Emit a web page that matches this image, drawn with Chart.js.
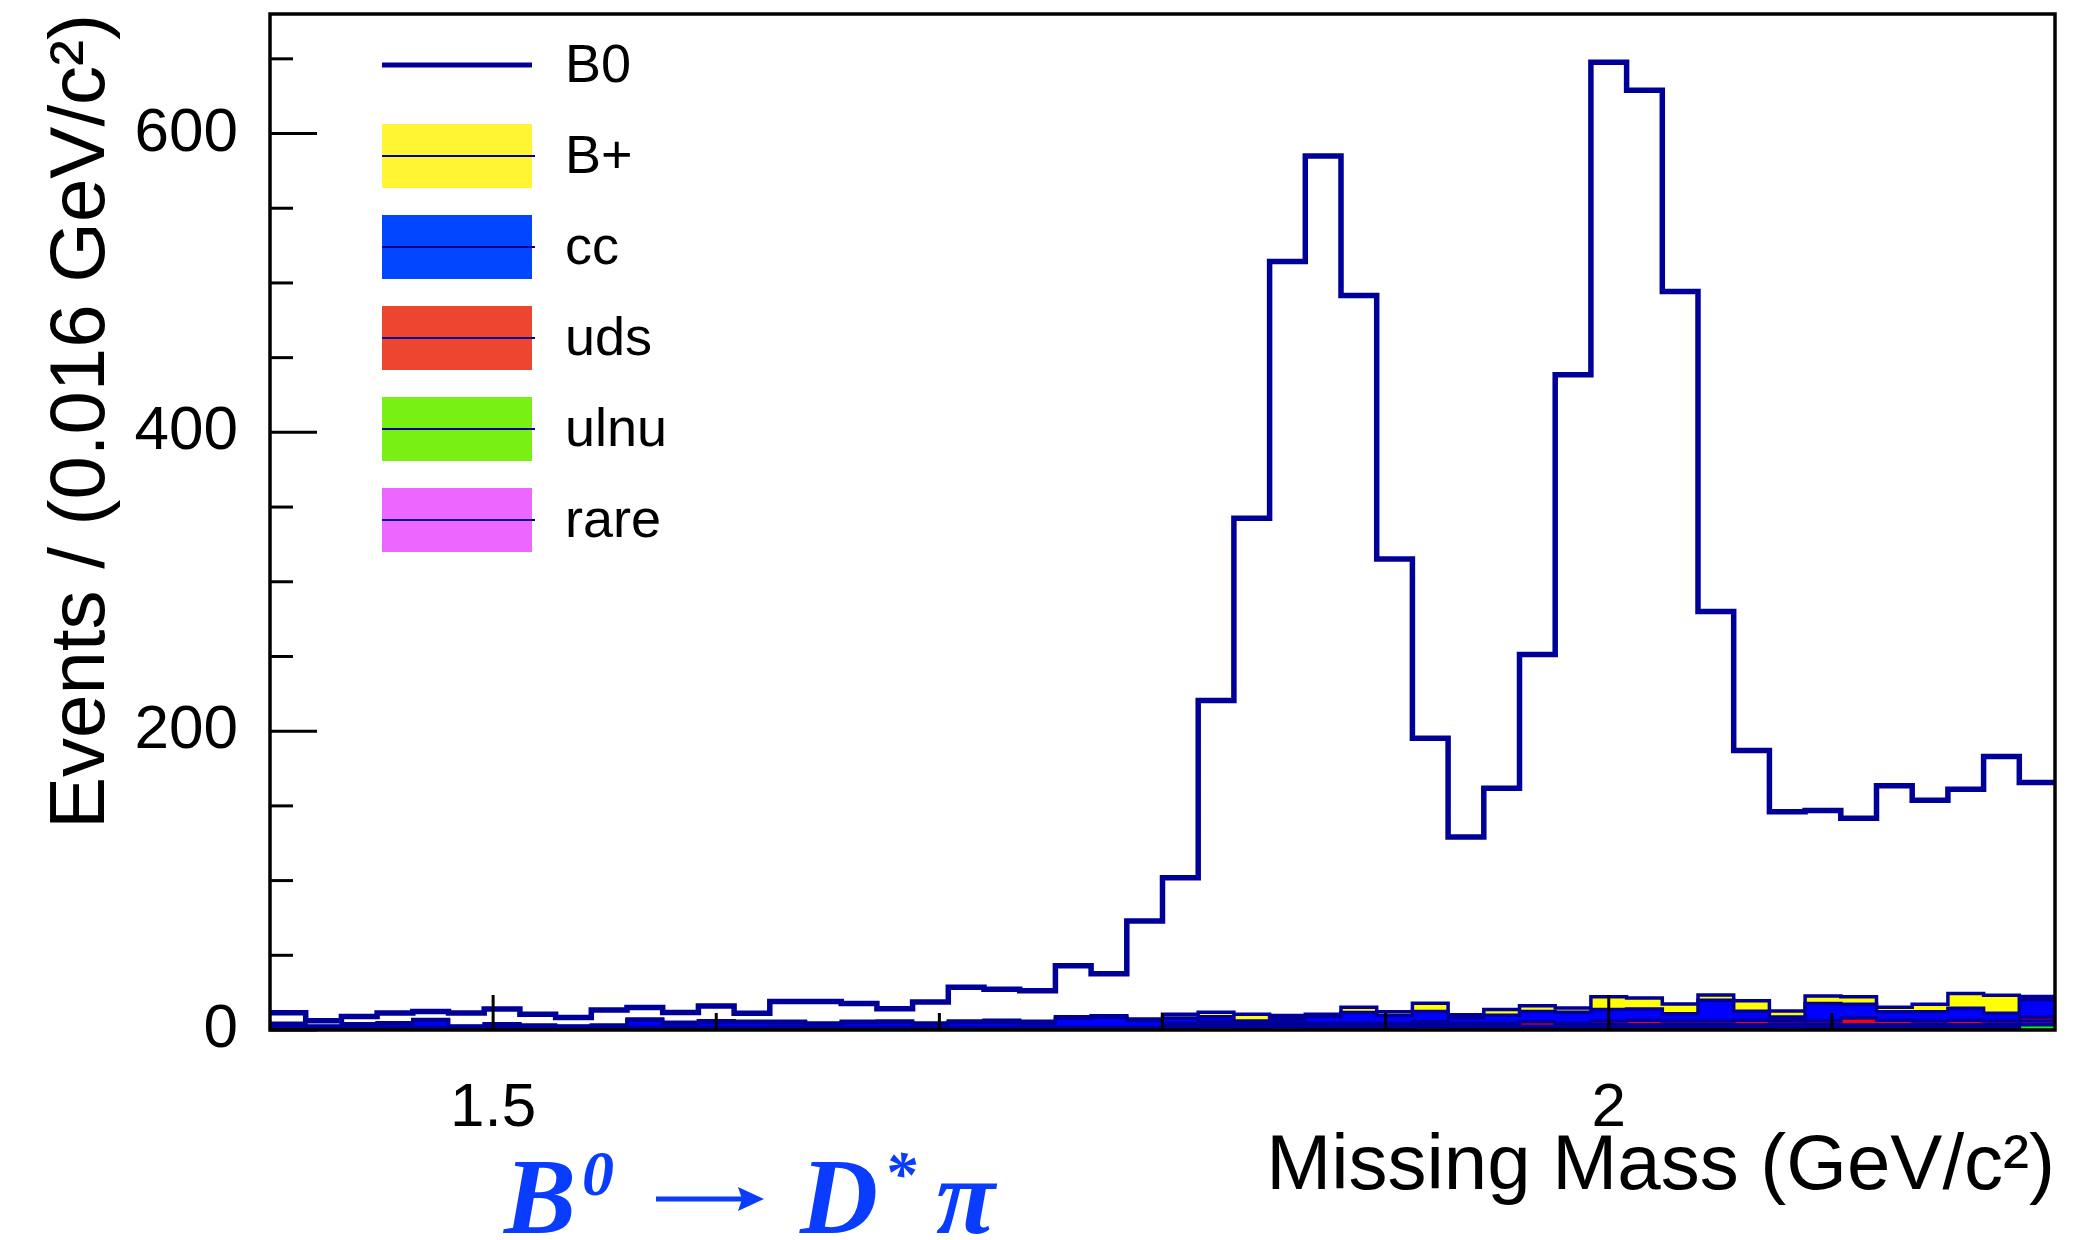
<!DOCTYPE html>
<html>
<head>
<meta charset="utf-8">
<title>Missing Mass</title>
<script src="https://cdn.jsdelivr.net/npm/chart.js@4.4.1/dist/chart.umd.min.js"></script>
<style>
  html, body { margin: 0; padding: 0; background: #fff; }
  #missMass { display: block; }
</style>
</head>
<body>
<canvas id="missMass" width="2100" height="1240"></canvas>
<script>
// 50 bins of 0.016 GeV/c2 between 1.4 and 2.2
const xMin = 1.4;
const xMax = 2.2;
const binWidth = 0.016;
const binEdges = [];
for (let i = 0; i <= 50; i++) binEdges.push(+(xMin + i * binWidth).toFixed(3));

// stack components, bottom to top (events per bin)
const ulnu = [0.4,0.4,0.4,0.4,0.4,0.4,0.4,0.4,0.4,0.4,0.4,0.4,0.4,0.4,0.4,0.4,0.4,0.4,0.4,0.4,0.4,0.4,0.4,0.4,0.4,
              1.0,2.0,1.0,2.0,1.0,1.0,1.0,2.0,1.0,1.0,1.0,1.0,1.5,1.5,1.5,1.5,1.5,2.0,1.5,1.5,1.5,1.5,1.5,1.5,3.5];
const rare = [0.6,0.6,0.6,0.6,0.6,0.6,0.6,0.6,0.6,0.6,0.6,0.6,0.6,0.6,0.6,0.6,0.6,0.6,0.6,0.6,0.6,0.6,0.6,0.6,0.6,
              1.5,1.5,1.5,1.5,1.5,1.5,1.5,1.5,1.5,1.5,1.5,1.5,2.0,2.0,2.0,2.0,2.0,2.0,2.0,2.0,2.0,2.0,2.0,2.0,2.5];
const uds = [0.8,0.8,0.8,0.8,0.8,0.8,0.8,0.8,0.8,0.8,0.8,0.8,0.8,0.8,1.3,0.8,0.8,0.8,0.8,0.8,0.8,1.3,0.8,0.8,0.8,
             2.0,2.0,2.0,2.0,2.0,2.0,2.0,2.0,2.0,2.0,3.0,2.0,2.5,3.0,2.5,2.5,3.0,2.5,2.5,4.5,3.0,2.5,3.0,2.5,2.7];
const cc = [2.2,0.5,1.9,2.6,4.6,0.5,1.8,1.1,0.5,1.0,4.8,2.7,3.6,3.2,2.9,2.4,3.2,3.4,2.4,3.4,3.3,2.7,6.0,6.7,4.6,
            3.6,3.3,1.6,2.2,4.6,7.2,5.2,6.9,3.7,5.3,6.8,7.3,7.8,7.5,4.9,13.9,6.1,2.2,11.8,9.3,5.7,6.2,8.0,5.2,11.5];
const bplus = [0.5,0.3,0.5,0.5,0.6,0.3,0.6,0.4,0.3,0.5,0.8,0.7,0.8,0.8,0.6,0.5,0.8,0.8,0.5,0.8,1.5,0.8,1.0,1.0,1.0,
               2.5,3.0,4.5,2.0,1.5,3.5,2.5,5.5,2.0,4.0,4.0,3.0,8.5,7.5,6.5,3.5,7.0,4.0,5.0,5.0,3.0,5.0,10.0,12.0,2.3];
const b0 = [7.0,3.6,4.8,6.5,5.4,8.7,9.8,7.2,5.8,10.1,7.6,6.5,9.9,5.4,13.2,14.3,11.9,8.2,14.0,22.6,20.6,20.4,34.2,28.2,65.6,
            91.3,208.8,331.9,504.6,574.4,476.4,303.0,177.4,119.0,148.0,235.1,423.8,625.4,607.5,476.9,256.7,167.5,133.4,124.1,119.4,
            148.2,136.6,136.6,159.8,143.1];

// axis ticks
const yMax = 680;
const yTickValues = [0, 200, 400, 600];
const yMinorTicks = [0, 50, 100, 150, 200, 250, 300, 350, 400, 450, 500, 550, 600, 650];
const xTickValues = [1.5, 2];
const xMinorTicks = [1.5, 1.6, 1.7, 1.8, 1.9, 2.0, 2.1];

const lineColor = '#000099';
const txtFont = "'Liberation Sans', Arial, Helvetica, sans-serif";

// step histogram: one point per low edge, plus the upper edge of the last bin
function histPoints(vals) {
    return binEdges.map((x, i) => ({ x: x, y: vals[Math.min(i, vals.length - 1)] }));
}

function histSet(label, vals, fillColor, legendFill, fill) {
    return {
        label: label,
        data: histPoints(vals),
        stepped: true,
        borderColor: lineColor,
        borderWidth: 3.5,
        backgroundColor: fillColor,
        legendFill: legendFill,
        fill: fill,
        pointRadius: 0,
        borderJoinStyle: 'miter'
    };
}

const datasets = [
    histSet('ulnu', ulnu, '#00ff00', '#78f014', 'origin'),
    histSet('rare', rare, '#ff00ff', '#ec66ff', '-1'),
    histSet('uds', uds, '#ff0000', '#ec4530', '-1'),
    histSet('cc', cc, '#0000ff', '#0047ff', '-1'),
    histSet('B+', bplus, '#ffff00', '#fff533', '-1'),
    Object.assign(histSet('B0', b0, 'rgba(0,0,0,0)', null, false), { borderWidth: 5.5 })
];

// legend order top to bottom
const legendOrder = ['B0', 'B+', 'cc', 'uds', 'ulnu', 'rare'];

// scales keep no extra room for overhanging labels
function noPad(s) {
    s.paddingTop = 0;
    s.paddingBottom = 0;
    s.paddingLeft = 0;
    s.paddingRight = 0;
}

// frame and inward ticks
const frameTicks = {
    id: 'frameTicks',
    afterDatasetsDraw(chart) {
        const { ctx, chartArea: a, scales: { x, y } } = chart;
        ctx.save();
        ctx.strokeStyle = '#000';
        ctx.lineWidth = 3;
        yMinorTicks.forEach(v => {
            const py = y.getPixelForValue(v);
            const len = yTickValues.includes(v) ? 47 : 23;
            ctx.beginPath();
            ctx.moveTo(a.left, py);
            ctx.lineTo(a.left + len, py);
            ctx.stroke();
        });
        xMinorTicks.forEach(v => {
            const px = x.getPixelForValue(v);
            const len = xTickValues.some(t => Math.abs(t - v) < 1e-6) ? 35 : 17;
            ctx.beginPath();
            ctx.moveTo(px, a.bottom);
            ctx.lineTo(px, a.bottom - len);
            ctx.stroke();
        });
        ctx.lineWidth = 3.5;
        ctx.strokeRect(a.left, a.top, a.right - a.left, a.bottom - a.top);
        ctx.restore();
    }
};

// ROOT style legend box in the upper left of the frame
const histLegend = {
    id: 'histLegend',
    afterDraw(chart) {
        const ctx = chart.ctx;
        const boxL = 382, boxR = 532, boxH = 64, top = 65, step = 91;
        ctx.save();
        ctx.font = '54px ' + txtFont;
        ctx.textBaseline = 'middle';
        legendOrder.forEach((name, i) => {
            const ds = chart.data.datasets.find(d => d.label === name);
            const cy = top + i * step;
            ctx.strokeStyle = lineColor;
            if (ds.legendFill) {
                ctx.fillStyle = ds.legendFill;
                ctx.fillRect(boxL, cy - boxH / 2, boxR - boxL, boxH);
                ctx.lineWidth = 2;
                ctx.beginPath();
                ctx.moveTo(boxL, cy);
                ctx.lineTo(boxR + 3, cy);
                ctx.stroke();
            } else {
                ctx.lineWidth = 5;
                ctx.beginPath();
                ctx.moveTo(boxL, cy);
                ctx.lineTo(boxR, cy);
                ctx.stroke();
            }
            ctx.fillStyle = '#000';
            ctx.fillText(name, 565, cy + 2);
        });
        ctx.restore();
    }
};

// decay label under the frame
const decayLabel = {
    id: 'decayLabel',
    afterDraw(chart) {
        const ctx = chart.ctx;
        const serif = "'Liberation Serif', 'Times New Roman', serif";
        const big = 'italic bold 108px ' + serif;
        const sup = 'italic bold 64px ' + serif;
        const base = 1233;
        ctx.save();
        ctx.fillStyle = '#0a3cff';
        ctx.strokeStyle = '#0a3cff';
        ctx.textBaseline = 'alphabetic';
        ctx.font = big;
        ctx.fillText('B', 504, base);
        ctx.font = sup;
        ctx.fillText('0', 582, base - 38);
        // arrow
        const ay = base - 34;
        ctx.lineWidth = 5;
        ctx.beginPath();
        ctx.moveTo(656, ay);
        ctx.lineTo(748, ay);
        ctx.stroke();
        ctx.beginPath();
        ctx.moveTo(764, ay);
        ctx.lineTo(738, ay - 12);
        ctx.lineTo(742, ay);
        ctx.lineTo(738, ay + 12);
        ctx.closePath();
        ctx.fill();
        ctx.font = big;
        ctx.fillText('D', 800, base);
        const dEnd = 800 + ctx.measureText('D').width;
        ctx.font = sup;
        ctx.fillText('*', dEnd + 6, base - 38);
        ctx.font = big;
        ctx.fillText('\u03c0', 936, base);
        ctx.restore();
    }
};

const ctx = document.getElementById('missMass').getContext('2d');
const missMass = new Chart(ctx, {
    type: 'line',
    data: { datasets: datasets },
    options: {
        responsive: false,
        animation: false,
        devicePixelRatio: 1,
        layout: { padding: { top: 14, right: 45, left: 0, bottom: 0 } },
        plugins: {
            legend: { display: false },
            tooltip: { enabled: false }
        },
        scales: {
            x: {
                type: 'linear',
                min: xMin,
                max: xMax,
                grid: { display: false, drawTicks: false },
                border: { display: false },
                afterBuildTicks: s => { s.ticks = xTickValues.map(v => ({ value: v })); },
                afterFit: s => { s.height = 210; noPad(s); },
                ticks: {
                    autoSkip: false,
                    maxRotation: 0,
                    padding: 42,
                    color: '#000',
                    font: { family: txtFont, size: 62 },
                    callback: v => String(v)
                },
                title: {
                    display: true,
                    align: 'end',
                    text: 'Missing Mass (GeV/c\u00b2)',
                    color: '#000',
                    font: { family: txtFont, size: 78 },
                    padding: { top: 0, bottom: 26 }
                }
            },
            y: {
                stacked: true,
                min: 0,
                max: yMax,
                grid: { display: false, drawTicks: false },
                border: { display: false },
                afterBuildTicks: s => { s.ticks = yTickValues.map(v => ({ value: v })); },
                afterFit: s => { s.width = 270; noPad(s); },
                ticks: {
                    autoSkip: false,
                    padding: 32,
                    color: '#000',
                    font: { family: txtFont, size: 62 },
                    callback: v => String(v)
                },
                title: {
                    display: true,
                    align: 'end',
                    text: 'Events / (0.016 GeV/c\u00b2)',
                    color: '#000',
                    font: { family: txtFont, size: 78 },
                    padding: { top: 36, bottom: 0 }
                }
            }
        }
    },
    plugins: [frameTicks, histLegend, decayLabel]
});
</script>
</body>
</html>
